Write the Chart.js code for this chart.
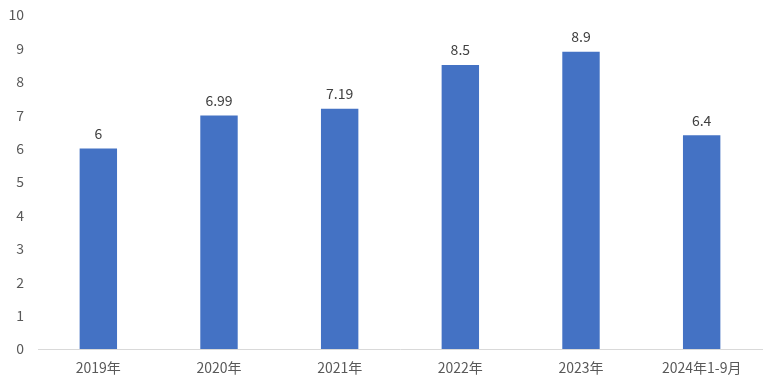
<!DOCTYPE html>
<html>
<head>
<meta charset="utf-8">
<script src="https://cdn.jsdelivr.net/npm/chart.js@4"></script>
<style>
  html, body { margin: 0; padding: 0; background: #fff; }
  .chart-wrap { width: 777px; height: 388px; }
</style>
</head>
<body>
<div class="chart-wrap"><canvas id="barChart"></canvas></div>
<script>
const years = ["2019年", "2020年", "2021年", "2022年", "2023年", "2024年1-9月"];
const values = [6, 6.99, 7.19, 8.5, 8.9, 6.4];
const yTicks = [0, 1, 2, 3, 4, 5, 6, 7, 8, 9, 10];

const fontFamily = "'Noto Sans CJK SC', 'DejaVu Sans', sans-serif";

// writes the value above each bar
const valueLabels = {
  id: "valueLabels",
  afterDatasetsDraw(chart) {
    const ctx = chart.ctx;
    const meta = chart.getDatasetMeta(0);
    ctx.save();
    ctx.fillStyle = "#404040";
    ctx.font = "14px " + fontFamily;
    ctx.textAlign = "center";
    ctx.textBaseline = "middle";
    meta.data.forEach(function (bar, i) {
      ctx.fillText(String(values[i]), bar.x, bar.y - 15);
    });
    ctx.restore();
  }
};

const drawChart = function () {
  let ctx = document.getElementById("barChart").getContext("2d");
  let config = {
    type: "bar",
    data: {
      labels: years,
      datasets: [
        {
          data: values,
          backgroundColor: "#4472C4",
          barPercentage: 1,
          categoryPercentage: 0.31
        }
      ]
    },
    options: {
      responsive: true,
      maintainAspectRatio: false,
      animation: false,
      layout: { padding: { top: 15, right: 15, left: 0, bottom: 0 } },
      scales: {
        x: {
          grid: { display: false },
          border: { display: true, color: "#d9d9d9" },
          ticks: { color: "#595959", font: { size: 14, family: fontFamily }, padding: 2, maxRotation: 0 },
          afterFit: function (s) { s.height = 39; }
        },
        y: {
          min: 0,
          max: 10,
          grid: { display: false },
          border: { display: false },
          afterBuildTicks: function (s) { s.ticks = yTicks.map(v => ({ value: v })); },
          ticks: { color: "#595959", font: { size: 14, family: fontFamily }, padding: 6 },
          afterFit: function (s) {
            s.width = 38;
            s.paddingTop = 0;
            s.paddingBottom = 0;
          }
        }
      },
      plugins: {
        legend: { display: false },
        title: { display: false },
        tooltip: { enabled: false }
      }
    },
    plugins: [valueLabels]
  };
  new Chart(ctx, config);
};

document.addEventListener("DOMContentLoaded", function () {
  drawChart();
});
</script>
</body>
</html>
